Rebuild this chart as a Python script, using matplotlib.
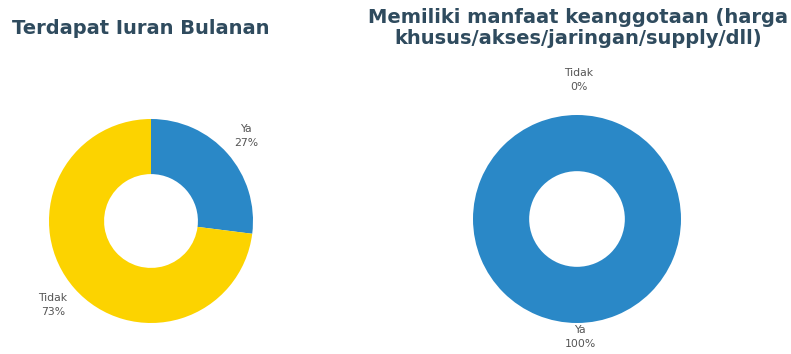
import matplotlib.pyplot as plt

# data
left_title = "Terdapat Iuran Bulanan"
left_labels = ["Ya", "Tidak"]
left_values = [27, 73]

right_title = "Memiliki manfaat keanggotaan (harga\nkhusus/akses/jaringan/supply/dll)"
right_labels = ["Ya", "Tidak"]
right_values = [100, 0]

colors = ["#2a88c7", "#fcd300"]
title_color = "#2f4b5e"
label_color = "#555555"

W, H = 791, 354
fig = plt.figure(figsize=(W / 100, H / 100), dpi=100)
ax = fig.add_axes([0, 0, 1, 1])
ax.set_xlim(0, W)
ax.set_ylim(0, H)
ax.set_aspect("equal")
ax.axis("off")


def donut(cx, cy, r, values):
    ax.pie(values, colors=colors, startangle=90, counterclock=False,
           center=(cx, H - cy), radius=r, frame=True,
           wedgeprops=dict(width=r * 0.54, linewidth=0))


donut(151, 221, 102, left_values)
donut(577, 219, 104, right_values)
ax.set_xlim(0, W)
ax.set_ylim(0, H)
ax.axis("off")

# titles
ax.text(12, H - 29, left_title, fontsize=14, fontweight="bold",
        color=title_color, ha="left", va="center", family="DejaVu Sans")
ax.text(578, H - 28, right_title, fontsize=14, fontweight="bold",
        color=title_color, ha="center", va="center", linespacing=1.15,
        family="DejaVu Sans")

# slice labels
def slice_label(x, y, name, val):
    ax.text(x, H - y, f"{name}\n{val}%", fontsize=7.8, color=label_color,
            ha="center", va="center", linespacing=1.5)


slice_label(246, 136, left_labels[0], left_values[0])
slice_label(53, 305, left_labels[1], left_values[1])
slice_label(579, 80, right_labels[1], right_values[1])
slice_label(580, 337, right_labels[0], right_values[0])

fig.savefig("out.png", dpi=100, facecolor="white")
